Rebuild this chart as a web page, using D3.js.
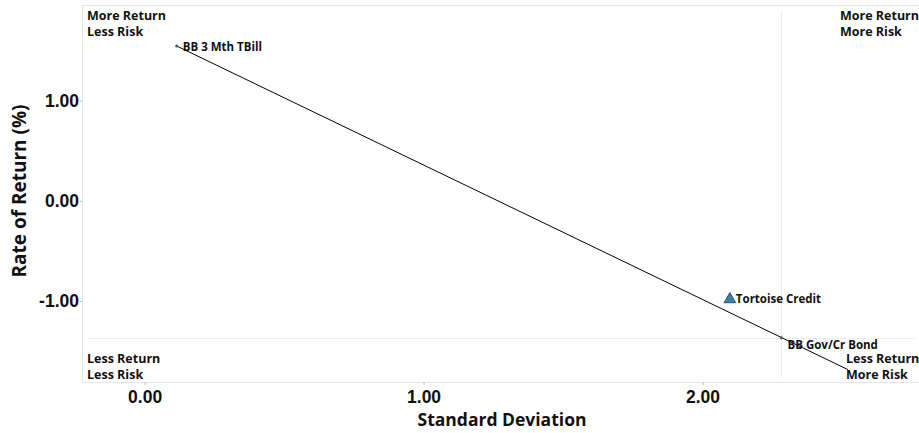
<!DOCTYPE html>
<html>
<head>
<meta charset="utf-8">
<script src="https://cdn.jsdelivr.net/npm/d3@7"></script>
<style>
  html, body { margin: 0; padding: 0; background: #fff; }
  svg { display: block; font-family: "Open Sans", "Noto Sans", sans-serif; }
</style>
</head>
<body>
<svg id="chart" width="919" height="433"></svg>
<script>
// ---- data ----
const seriesNames = ["BB 3 Mth TBill", "Tortoise Credit", "BB Gov/Cr Bond"];
const stdDev = [0.115, 2.098, 2.283];
const returns = [1.545, -0.973, -1.366];
const markerShapes = ["dot", "triangle", "dot"];
const lineStd = [0.115, 2.521];
const lineRet = [1.545, -1.684];
const xTicks = [0, 1, 2];
const yTicks = [-1, 0, 1];
const benchmarkIndex = 2;
const quadrantLabels = [
  ["More Return", "Less Risk"],
  ["More Return", "More Risk"],
  ["Less Return", "Less Risk"],
  ["Less Return", "More Risk"]
];

// ---- layout (styling, not data) ----
const labelOffsets = [[6, 5], [6, 4.5], [6, 11]];
const fmt = d => d3.format(".2f")(d).replace("\u2212", "-");

const svg = d3.select("#chart");
const mLeft = 82, mRight = 919, mTop = 5, mBottom = 382;
const x = d3.scaleLinear().domain([-0.2245, 2.776]).range([mLeft, mRight]);
const y = d3.scaleLinear().domain([1.954, -1.808]).range([mTop, mBottom]);

// frame
svg.append("line").attr("x1", mLeft).attr("x2", mRight).attr("y1", mTop + 0.5).attr("y2", mTop + 0.5)
  .attr("stroke", "#e6e6e6");
svg.append("line").attr("x1", mLeft).attr("x2", mRight).attr("y1", mBottom + 0.5).attr("y2", mBottom + 0.5)
  .attr("stroke", "#e6e6e6");
svg.append("line").attr("x1", mLeft + 0.5).attr("x2", mLeft + 0.5).attr("y1", mTop).attr("y2", mBottom)
  .attr("stroke", "#e6e6e6");

// benchmark crosshair
const bx = x(stdDev[benchmarkIndex]), by = y(returns[benchmarkIndex]);
svg.append("line").attr("x1", Math.round(bx) + 0.5).attr("x2", Math.round(bx) + 0.5)
  .attr("y1", 11).attr("y2", 377).attr("stroke", "#ececec");
svg.append("line").attr("x1", 88).attr("x2", 915).attr("y1", Math.round(by) + 0.5).attr("y2", Math.round(by) + 0.5)
  .attr("stroke", "#ececec");

// axes
const xAxis = d3.axisBottom(x).tickValues(xTicks).tickFormat(fmt).tickSize(3).tickPadding(3);
const gx = svg.append("g").attr("transform", `translate(0,${mBottom})`).call(xAxis);
gx.select(".domain").remove();
gx.selectAll(".tick line").attr("stroke", "#bbb");
gx.selectAll(".tick text").attr("font-size", 17.5).attr("font-weight", 700).attr("fill", "#111")
  .attr("dy", "0.85em");

const yAxis = d3.axisLeft(y).tickValues(yTicks).tickFormat(fmt).tickSize(2).tickPadding(1);
const gy = svg.append("g").attr("transform", `translate(${mLeft},0)`).call(yAxis);
gy.select(".domain").remove();
gy.selectAll(".tick line").attr("stroke", "#bbb");
gy.selectAll(".tick text").attr("font-size", 17.5).attr("font-weight", 700).attr("fill", "#111");

// axis titles
svg.append("text").attr("x", 502).attr("y", 426)
  .attr("text-anchor", "middle").attr("font-size", 17.5).attr("font-weight", 700).attr("fill", "#111")
  .text("Standard Deviation");
svg.append("text").attr("transform", "translate(26,191) rotate(-90)")
  .attr("text-anchor", "middle").attr("font-size", 19).attr("font-weight", 700).attr("fill", "#111")
  .text("Rate of Return (%)");

// market line
svg.append("line")
  .attr("x1", x(lineStd[0])).attr("y1", y(lineRet[0]))
  .attr("x2", x(lineStd[1])).attr("y2", y(lineRet[1]))
  .attr("stroke", "#000").attr("stroke-width", 1);

// markers
const tri = d3.symbol().type(d3.symbolTriangle).size(60);
seriesNames.forEach((name, i) => {
  const px = x(stdDev[i]), py = y(returns[i]);
  if (markerShapes[i] === "triangle") {
    svg.append("path").attr("d", tri()).attr("transform", `translate(${px},${py + 1})`)
      .attr("fill", "#3d7fae").attr("stroke", "#1d3b50").attr("stroke-width", 0.8);
  } else {
    svg.append("circle").attr("cx", px).attr("cy", py).attr("r", 1.5)
      .attr("fill", "#555");
  }
  svg.append("text").attr("x", px + labelOffsets[i][0]).attr("y", py + labelOffsets[i][1])
    .attr("font-size", 11.5).attr("font-weight", 700).attr("fill", "#111").text(name);
});

// quadrant labels
const qpos = [
  {x: 87, y: 20},
  {x: 840, y: 20},
  {x: 87, y: 363},
  {x: 846, y: 363}
];
quadrantLabels.forEach((lines, i) => {
  const t = svg.append("text").attr("x", qpos[i].x).attr("y", qpos[i].y)
    .attr("font-size", 12.5).attr("font-weight", 700).attr("fill", "#111");
  lines.forEach((l, j) => {
    t.append("tspan").attr("x", qpos[i].x).attr("dy", j === 0 ? 0 : 15.5).text(l);
  });
});
</script>
</body>
</html>
